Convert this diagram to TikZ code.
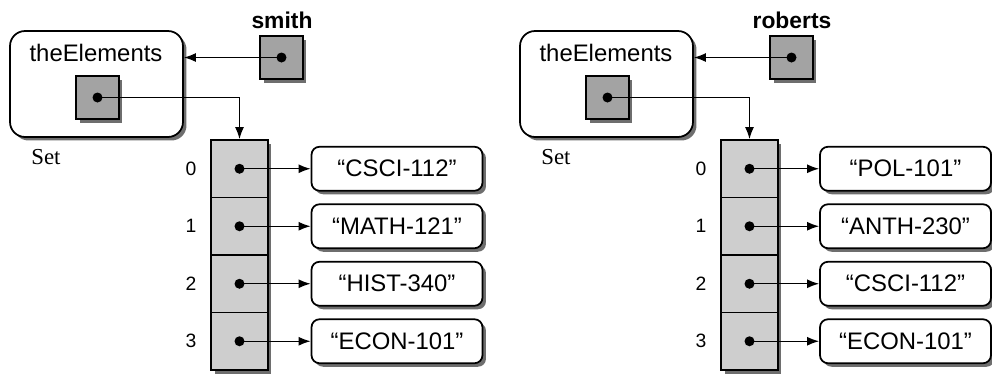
\documentclass[tikz,border=0pt]{standalone}
\usepackage{fontspec}
\setmainfont{Liberation Sans}
\newfontfamily\timesfont{Liberation Serif}
\usetikzlibrary{arrows.meta, positioning, shadows}
\definecolor{ptrgray}{RGB}{163,163,163}
\definecolor{cellgray}{RGB}{206,206,206}
\definecolor{shadowgray}{RGB}{110,110,110}

\begin{document}
\begin{tikzpicture}[x=0.02cm, y=-0.02cm,
  boxshadow/.style={drop shadow={shadow xshift=0.07cm, shadow yshift=-0.07cm, fill=shadowgray, opacity=1}},
  setbox/.style={draw, line width=1pt, rounded corners=0.3cm, fill=white, minimum width=3.46cm, minimum height=2.12cm, boxshadow},
  ptrbox/.style={draw, line width=1pt, fill=ptrgray, minimum size=0.86cm, inner sep=0pt, boxshadow},
  cellbox/.style={draw, line width=1pt, fill=cellgray, minimum width=1.14cm, minimum height=1.15cm, inner sep=0pt, boxshadow},
  strbox/.style={draw, line width=1pt, rounded corners=0.16cm, fill=white, minimum width=3.42cm, minimum height=0.88cm, inner sep=0pt, boxshadow, font=\fontsize{13.6}{16}\selectfont},
  ref/.style={-{Latex[length=0.24cm, width=0.18cm]}, line width=0.8pt},
  dot/.style={fill=black, radius=0.1cm}]
  \useasboundingbox (0,0) rectangle (992,373);

  % smith
  \node[setbox] (set1) at (96.5,84) {};
  \node[font=\fontsize{13.6}{16}\selectfont] (elem1) at (96,53) {theElements};
  \node[ptrbox] (ptr1) at (97.5,97.5) {};
  \node[ptrbox] (var1) at (281.5,57.5) {};
  \node[font=\bfseries\fontsize{13}{15}\selectfont] (name1) at (282,20) {smith};
  \node[font=\timesfont\fontsize{13}{15}\selectfont] (kind1) at (46,157) {Set};
  \foreach \i/\s in {0/CSCI-112, 1/MATH-121, 2/HIST-340, 3/ECON-101} {
    \node[cellbox] (a1-\i) at (239.5,{168.75+57.5*\i}) {};
    \node[font=\fontsize{11}{13}\selectfont] (n1-\i) at (191,{168.75+57.5*\i}) {\i};
    \node[strbox] (s1-\i) at (397,{168.75+57.5*\i}) {“\s”};
    \draw[ref] (a1-\i.center) -- (s1-\i.west);
    \fill[dot] (a1-\i.center) circle;
  }
  \draw[ref] (var1.center) -- (var1.center -| set1.east);
  \fill[dot] (var1.center) circle;
  \draw[ref] (ptr1.center) -| (a1-0.north);
  \fill[dot] (ptr1.center) circle;

  % roberts
  \node[setbox] (set2) at (606.5,84) {};
  \node[font=\fontsize{13.6}{16}\selectfont] (elem2) at (606,53) {theElements};
  \node[ptrbox] (ptr2) at (607.5,97.5) {};
  \node[ptrbox] (var2) at (791.5,57.5) {};
  \node[font=\bfseries\fontsize{13}{15}\selectfont] (name2) at (792,20) {roberts};
  \node[font=\timesfont\fontsize{13}{15}\selectfont] (kind2) at (556,157) {Set};
  \foreach \i/\s in {0/POL-101, 1/ANTH-230, 2/CSCI-112, 3/ECON-101} {
    \node[cellbox] (a2-\i) at (749.5,{168.75+57.5*\i}) {};
    \node[font=\fontsize{11}{13}\selectfont] (n2-\i) at (701,{168.75+57.5*\i}) {\i};
    \node[strbox] (s2-\i) at (905.5,{168.75+57.5*\i}) {“\s”};
    \draw[ref] (a2-\i.center) -- (s2-\i.west);
    \fill[dot] (a2-\i.center) circle;
  }
  \draw[ref] (var2.center) -- (var2.center -| set2.east);
  \fill[dot] (var2.center) circle;
  \draw[ref] (ptr2.center) -| (a2-0.north);
  \fill[dot] (ptr2.center) circle;
\end{tikzpicture}
\end{document}
